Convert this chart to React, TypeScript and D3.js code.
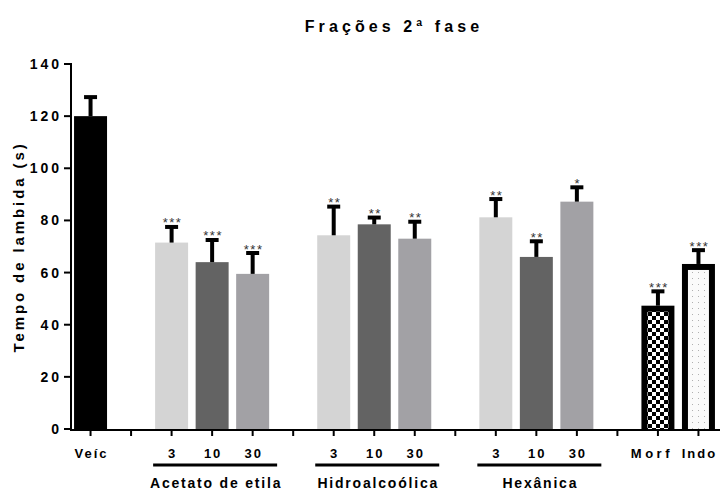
import React from "react";
import * as d3 from "d3";

// Slots along the x axis; empty strings are spacer slots between groups
const slotLabels = ["Veíc", "", "3", "10", "30", "", "3", "10", "30", "", "3", "10", "30", "", "Morf", "Indo"];
const meanValues: (number | null)[] = [120, null, 71.5, 64, 59.5, null, 74.3, 78.5, 73, null, 81.2, 66, 87.2, null, 47.3, 63.3];
const semValues: (number | null)[] = [7.3, null, 6, 8.5, 8, null, 11, 2.6, 6.5, null, 7, 6, 5.5, null, 5.5, 5.3];
const significance = ["", "", "***", "***", "***", "", "**", "**", "**", "", "**", "**", "*", "", "***", "***"];
const groupNames = ["Acetato de etila", "Hidroalcoólica", "Hexânica"];
const groupRanges = [[2, 4], [6, 8], [10, 12]];
const yTicks = [0, 20, 40, 60, 80, 100, 120, 140];

const W = 721;
const H = 492;
const FONT = "'Liberation Sans', Arial, sans-serif";

const barFill = (i: number): string => {
  if (i === 0) return "#000000";
  if (i === 14) return "url(#checker)";
  if (i === 15) return "url(#dots)";
  const k = (i - 2) % 4;
  return ["#d4d4d4", "#636363", "#a2a1a5"][k];
};

export default function App() {
  const slots = slotLabels.map((_, i) => String(i));
  const x = d3.scaleBand<string>().domain(slots).range([70, 719]).paddingInner(0.186).paddingOuter(0.1);
  const y = d3.scaleLinear().domain([0, 140]).range([429, 64]);
  const bw = x.bandwidth();
  const cx = (i: number) => (x(String(i)) as number) + bw / 2;
  const axisX = 71;
  const axisY = 430;

  return (
    <svg width={W} height={H} style={{ position: "absolute", left: 0, top: 0, background: "#fff" }} fontFamily={FONT}>
      <defs>
        <pattern id="checker" width={8} height={8} patternUnits="userSpaceOnUse">
          <rect width={8} height={8} fill="#fff" />
          <rect width={4} height={4} fill="#000" />
          <rect x={4} y={4} width={4} height={4} fill="#000" />
        </pattern>
        <pattern id="dots" width={6} height={6} patternUnits="userSpaceOnUse">
          <rect width={6} height={6} fill="#fafafa" />
          <rect x={2} y={2} width={1} height={1} fill="#b0b0b0" />
        </pattern>
      </defs>

      <text x={394} y={32} textAnchor="middle" fontSize={16} fontWeight="bold" letterSpacing={4.1}>
        Frações 2ª fase
      </text>

      <text
        transform={`translate(24,247) rotate(-90)`}
        textAnchor="middle"
        fontSize={15}
        fontWeight="bold"
        letterSpacing={2.9}
      >
        Tempo de lambida (s)
      </text>

      {/* bars */}
      {meanValues.map((v, i) => {
        if (v == null) return null;
        const x0 = x(String(i)) as number;
        const top = y(v);
        const h = y(0) - top;
        if (i >= 14) {
          const b = 6;
          return (
            <g key={i}>
              <rect x={x0} y={top} width={bw} height={h} fill="#000" />
              <rect x={x0 + b} y={top + b} width={bw - 2 * b} height={h - b} fill={barFill(i)} />
            </g>
          );
        }
        return <rect key={i} x={x0} y={top} width={bw} height={h} fill={barFill(i)} />;
      })}

      {/* error bars (upper SEM) and significance marks */}
      {meanValues.map((v, i) => {
        const s = semValues[i];
        if (v == null || s == null) return null;
        const c = cx(i);
        const capY = y(v + s);
        return (
          <g key={"e" + i}>
            <line x1={c} x2={c} y1={y(v)} y2={capY} stroke="#000" strokeWidth={4} />
            <line x1={c - 6.5} x2={c + 6.5} y1={capY} y2={capY} stroke="#000" strokeWidth={4} />
            {significance[i] && (
              <text x={c + 1} y={capY + 0.5} textAnchor="middle" fontSize={13} fill="#333" letterSpacing={1.5}>
                {significance[i]}
              </text>
            )}
          </g>
        );
      })}

      {/* y axis */}
      <line x1={axisX} x2={axisX} y1={y(140) - 1} y2={axisY + 1} stroke="#000" strokeWidth={2} />
      {yTicks.map((t) => (
        <g key={"yt" + t}>
          <line x1={axisX - 7} x2={axisX} y1={y(t)} y2={y(t)} stroke="#000" strokeWidth={2} />
          <text x={axisX - 9} y={y(t)} dy="0.36em" textAnchor="end" fontSize={14} fontWeight="bold" letterSpacing={3}>
            {t}
          </text>
        </g>
      ))}

      {/* x axis */}
      <line x1={axisX - 1} x2={720} y1={axisY} y2={axisY} stroke="#000" strokeWidth={2} />
      {slots.map((k, i) => (
        <g key={"xt" + k}>
          <line x1={cx(i)} x2={cx(i)} y1={axisY} y2={axisY + 6} stroke="#000" strokeWidth={2} />
          {slotLabels[i] && (
            <text
              x={cx(i) + (i === 14 ? -6 : 1)}
              y={458}
              textAnchor="middle"
              fontSize={13}
              fontWeight="bold"
              letterSpacing={i === 14 ? 3.5 : 2}
            >
              {slotLabels[i]}
            </text>
          )}
        </g>
      ))}

      {/* group underlines and names */}
      {groupNames.map((g, gi) => {
        const [a, b] = groupRanges[gi];
        const mid = (cx(a) + cx(b)) / 2 + 3;
        return (
          <g key={g}>
            <line x1={mid - 62} x2={mid + 62} y1={465} y2={465} stroke="#000" strokeWidth={3} />
            <text x={mid + 1} y={488} textAnchor="middle" fontSize={14} fontWeight="bold" letterSpacing={1.8}>
              {g}
            </text>
          </g>
        );
      })}
    </svg>
  );
}
